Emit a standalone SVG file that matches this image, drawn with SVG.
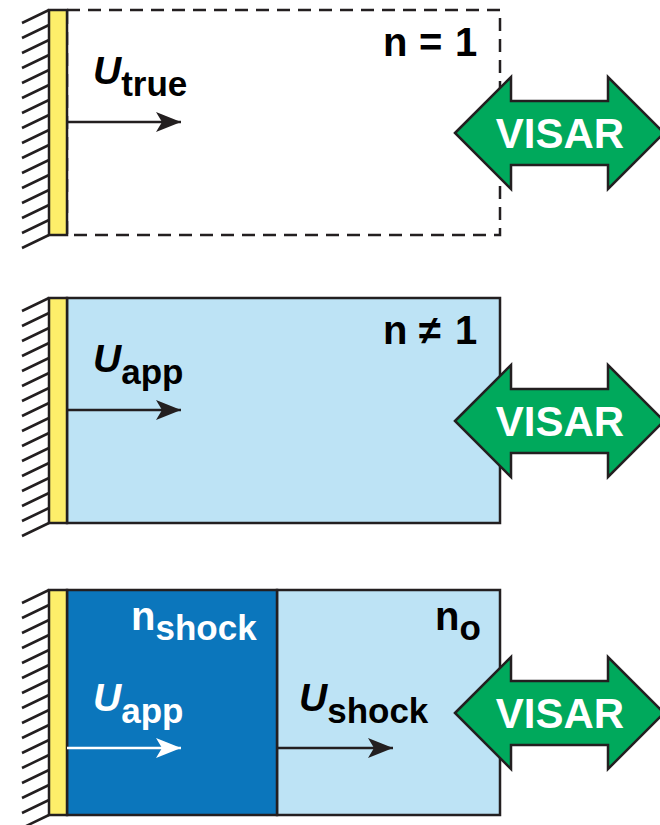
<svg xmlns="http://www.w3.org/2000/svg" width="660" height="825" viewBox="0 0 660 825">
  <defs>
    <style>
      .ln { stroke: #231F20; stroke-width: 2.5; }
      .bar { fill: #FDEE6A; stroke: #231F20; stroke-width: 2.5; }
      .box { stroke: #231F20; stroke-width: 2.5; }
      .light { fill: #BDE3F5; }
      .dark { fill: #0B76BC; }
      .dash { fill: none; stroke: #231F20; stroke-width: 2.5; stroke-dasharray: 13 8; }
      .visar { fill: #00A95C; stroke: #231F20; stroke-width: 2.5; stroke-linejoin: miter; }
      .vt { font-family: "Liberation Sans", Arial, sans-serif; font-weight: bold; font-size: 42px; fill: #FFFFFF; text-anchor: middle; }
      .t { font-family: "Liberation Sans", Arial, sans-serif; font-weight: bold; fill: #000000; }
      .U { font-style: italic; font-size: 39px; }
      .sub { font-size: 35px; }
      .n { font-size: 40px; }
      .w { fill: #FFFFFF; }
    </style>
    <g id="hatch">
      <path class="ln" fill="none" d="M22,23 L49,10 M22,38 L49,25 M22,53 L49,40 M22,68 L49,55 M22,83 L49,70 M22,98 L49,85 M22,113 L49,100 M22,128 L49,115 M22,143 L49,130 M22,158 L49,145 M22,173 L49,160 M22,188 L49,175 M22,203 L49,190 M22,218 L49,205 M22,233 L49,220 M22,248 L49,235"/>
    </g>
    <path id="visarShape" d="M455,133 L511,77 L511,101 L608,101 L608,77 L664,133 L608,189 L608,165 L511,165 L511,189 Z"/>
    <marker id="ahB" markerWidth="26" markerHeight="22" refX="25" refY="11" orient="auto" markerUnits="userSpaceOnUse">
      <path d="M25,11 L0,1 L6,11 L0,21 Z" fill="#231F20"/>
    </marker>
    <marker id="ahW" markerWidth="26" markerHeight="22" refX="25" refY="11" orient="auto" markerUnits="userSpaceOnUse">
      <path d="M25,11 L0,1 L6,11 L0,21 Z" fill="#FFFFFF"/>
    </marker>
  </defs>
  <rect width="660" height="825" fill="#FFFFFF"/>

  <!-- Panel 1 -->
  <g id="panel1">
    <use href="#hatch"/>
    <rect class="dash" x="67" y="10" width="433" height="225"/>
    <rect class="bar" x="49" y="10" width="18" height="225"/>
    <text class="t" x="93" y="84"><tspan class="U">U</tspan><tspan class="sub" dy="12">true</tspan></text>
    <text class="t n" x="383" y="56">n <tspan x="419">=</tspan><tspan x="455">1</tspan></text>
  </g>
  <g id="visar1">
    <use href="#visarShape" class="visar"/>
    <text class="vt" x="560" y="148">VISAR</text>
  </g>

  <!-- Panel 2 -->
  <g id="panel2">
    <use href="#hatch" y="288"/>
    <rect class="box light" x="67" y="298" width="433" height="225"/>
    <rect class="bar" x="49" y="298" width="18" height="225"/>
    <text class="t" x="93" y="372"><tspan class="U">U</tspan><tspan class="sub" dy="12">app</tspan></text>
    <text class="t n" x="383" y="344">n <tspan x="419">≠</tspan><tspan x="455">1</tspan></text>
  </g>
  <g id="visar2">
    <use href="#visarShape" class="visar" y="288"/>
    <text class="vt" x="560" y="436">VISAR</text>
  </g>

  <!-- Panel 3 -->
  <g id="panel3">
    <use href="#hatch" y="580"/>
    <rect class="box light" x="277" y="590" width="223" height="225"/>
    <rect class="box dark" x="67" y="590" width="210" height="225"/>
    <rect class="bar" x="49" y="590" width="18" height="225"/>
    <text class="t w" x="131" y="630"><tspan class="n">n</tspan><tspan class="sub" dy="10">shock</tspan></text>
    <text class="t" x="435" y="630"><tspan class="n">n</tspan><tspan class="sub" dy="10">o</tspan></text>
    <text class="t w" x="93" y="711"><tspan class="U">U</tspan><tspan class="sub" dy="12">app</tspan></text>
    <text class="t" x="299" y="711"><tspan class="U">U</tspan><tspan class="sub" dy="12">shock</tspan></text>
  </g>
  <g id="visar3">
    <use href="#visarShape" class="visar" y="580"/>
    <text class="vt" x="560" y="728">VISAR</text>
  </g>

  <!-- Connectors -->
  <g id="connectors">
    <line x1="67" y1="122" x2="181" y2="122" stroke="#231F20" stroke-width="2.5" marker-end="url(#ahB)"/>
    <line x1="67" y1="410" x2="181" y2="410" stroke="#231F20" stroke-width="2.5" marker-end="url(#ahB)"/>
    <line x1="67" y1="748" x2="181" y2="748" stroke="#FFFFFF" stroke-width="2.5" marker-end="url(#ahW)"/>
    <line x1="278" y1="748" x2="393" y2="748" stroke="#231F20" stroke-width="2.5" marker-end="url(#ahB)"/>
  </g>
</svg>
